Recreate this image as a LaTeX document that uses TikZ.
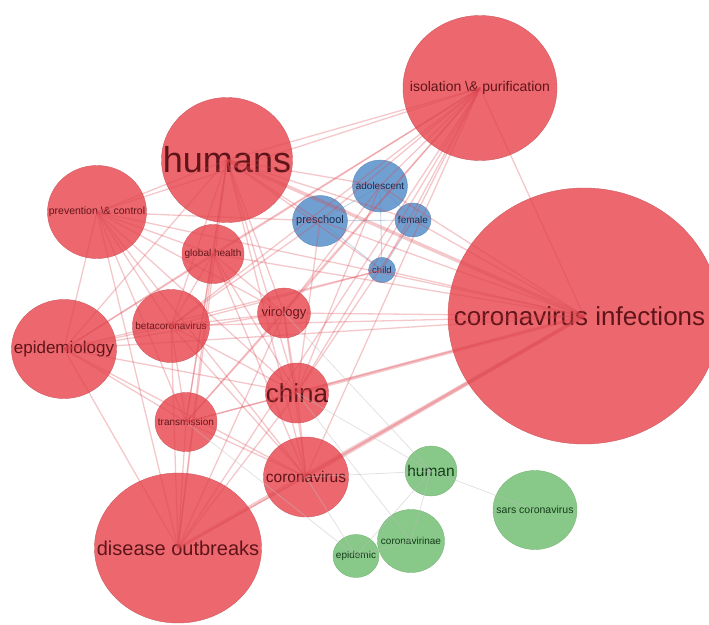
\documentclass[tikz,border=0pt]{standalone}
\usepackage{fontspec}
\setmainfont{Liberation Sans}
\usepackage{tikz}
\usetikzlibrary{shapes.geometric}
\definecolor{bubred}{RGB}{236,104,110}
\definecolor{bubredline}{RGB}{205,90,95}
\definecolor{bubblue}{RGB}{112,160,210}
\definecolor{bubblueline}{RGB}{95,140,185}
\definecolor{bubgreen}{RGB}{136,200,136}
\definecolor{bubgreenline}{RGB}{120,180,120}
\definecolor{redtext}{RGB}{95,20,25}
\definecolor{bluetext}{RGB}{20,40,75}
\definecolor{greentext}{RGB}{20,60,25}
\definecolor{linkred}{RGB}{220,70,80}
\definecolor{linkgray}{RGB}{190,190,190}

\begin{document}
\begin{tikzpicture}
	[x=1pt, y=-1pt,
	redbub/.style={ellipse, inner sep=0pt, fill=bubred, draw=bubredline, text=redtext},
	bluebub/.style={ellipse, inner sep=0pt, fill=bubblue, draw=bubblueline, text=bluetext},
	greenbub/.style={ellipse, inner sep=0pt, fill=bubgreen, draw=bubgreenline, text=greentext},
	link/.style={draw=linkred, opacity=0.3, line width=1.3pt},
	fade/.style={draw=linkgray, opacity=0.45, line width=0.8pt}]
	\useasboundingbox (0,0) rectangle (709,624);

	% red cluster
	\node (isolation) [redbub, minimum width=154, minimum height=145, font=\fontsize{14}{14}\selectfont]
		at (480,88) {\makebox[0pt]{isolation \textbackslash\& purification}};
	\node (humans) [redbub, minimum width=131, minimum height=125, font=\fontsize{36}{36}\selectfont]
		at (227,160) {\makebox[0pt]{humans}};
	\node (infections) [redbub, minimum width=272, minimum height=256, font=\fontsize{26}{26}\selectfont]
		at (584,316) {\makebox[0pt]{\kern-9pt coronavirus infections}};
	\node (prevention) [redbub, minimum width=99, minimum height=93, font=\fontsize{10.5}{10.5}\selectfont]
		at (97,212) {\makebox[0pt]{prevention \textbackslash\& control}};
	\node (global) [redbub, minimum width=62, minimum height=59, font=\fontsize{10}{10}\selectfont]
		at (213,254) {\makebox[0pt]{global health}};
	\node (epidemiology) [redbub, minimum width=105, minimum height=99, font=\fontsize{17}{17}\selectfont]
		at (64,349) {\makebox[0pt]{epidemiology}};
	\node (beta) [redbub, minimum width=77, minimum height=73, font=\fontsize{10}{10}\selectfont]
		at (171,326) {\makebox[0pt]{betacoronavirus}};
	\node (virology) [redbub, minimum width=53, minimum height=50, font=\fontsize{13}{13}\selectfont]
		at (284,313) {\makebox[0pt]{virology}};
	\node (china) [redbub, minimum width=63, minimum height=60, font=\fontsize{26}{26}\selectfont]
		at (297,393) {\makebox[0pt]{china}};
	\node (transmission) [redbub, minimum width=62, minimum height=59, font=\fontsize{10}{10}\selectfont]
		at (186,422) {\makebox[0pt]{transmission}};
	\node (coronavirus) [redbub, minimum width=85, minimum height=80, font=\fontsize{15.5}{15.5}\selectfont]
		at (306,477) {\makebox[0pt]{coronavirus}};
	\node (outbreaks) [redbub, minimum width=167, minimum height=150, font=\fontsize{20}{20}\selectfont]
		at (178,548) {\makebox[0pt]{disease outbreaks}};

	% blue cluster
	\node (preschool) [bluebub, minimum width=55, minimum height=51, font=\fontsize{11}{11}\selectfont]
		at (320,221) {\makebox[0pt]{preschool}};
	\node (adolescent) [bluebub, minimum width=55, minimum height=52, font=\fontsize{10}{10}\selectfont]
		at (380,186) {\makebox[0pt]{adolescent}};
	\node (female) [bluebub, minimum width=36, minimum height=34, font=\fontsize{10}{10}\selectfont]
		at (413,220) {\makebox[0pt]{female}};
	\node (child) [bluebub, minimum width=27, minimum height=25, font=\fontsize{9.5}{9.5}\selectfont]
		at (382,270) {\makebox[0pt]{child}};

	% green cluster
	\node (human) [greenbub, minimum width=52, minimum height=50, font=\fontsize{15.5}{15.5}\selectfont]
		at (431,471) {\makebox[0pt]{human}};
	\node (sars) [greenbub, minimum width=84, minimum height=79, font=\fontsize{10.5}{10.5}\selectfont]
		at (535,510) {\makebox[0pt]{sars coronavirus}};
	\node (coronavirinae) [greenbub, minimum width=67, minimum height=63, font=\fontsize{10}{10}\selectfont]
		at (411,541) {\makebox[0pt]{coronavirinae}};
	\node (epidemic) [greenbub, minimum width=46, minimum height=43, font=\fontsize{10}{10}\selectfont]
		at (356,556) {\makebox[0pt]{epidemic}};

	% links
	\foreach \a/\b in {humans/isolation, humans/prevention, humans/global, humans/beta,
		humans/virology, humans/china, humans/transmission, humans/coronavirus,
		humans/outbreaks, humans/epidemiology, humans/preschool, humans/adolescent,
		humans/female, humans/child,
		isolation/prevention, isolation/epidemiology, isolation/global, isolation/beta,
		isolation/virology, isolation/china, isolation/coronavirus, isolation/outbreaks,
		isolation/infections, isolation/preschool, isolation/adolescent, isolation/transmission,
		isolation/female, isolation/child,
		infections/prevention, infections/epidemiology, infections/beta, infections/virology,
		infections/global, infections/transmission, infections/preschool, infections/adolescent,
		infections/female, infections/child,
		prevention/global, prevention/beta, prevention/virology, prevention/china,
		prevention/transmission, prevention/coronavirus, prevention/outbreaks,
		prevention/epidemiology, prevention/preschool,
		epidemiology/global, epidemiology/beta, epidemiology/virology, epidemiology/china,
		epidemiology/transmission, epidemiology/coronavirus, epidemiology/outbreaks,
		global/beta, global/virology, global/china, global/transmission, global/coronavirus,
		global/outbreaks,
		beta/virology, beta/china, beta/transmission, beta/coronavirus, beta/outbreaks,
		virology/china, virology/transmission, virology/coronavirus, virology/outbreaks,
		china/transmission, china/coronavirus, china/outbreaks,
		transmission/coronavirus, transmission/outbreaks, coronavirus/outbreaks,
		preschool/china, preschool/beta, adolescent/virology, adolescent/china,
		female/china, child/epidemiology, child/beta}
		\draw[link] (\a.center) -- (\b.center);
	\foreach \a/\b in {humans/infections, infections/china, infections/outbreaks,
		infections/coronavirus}
		\draw[link, line width=3.5pt] (\a.center) -- (\b.center);
	\foreach \a/\b in {preschool/adolescent, preschool/female, preschool/child,
		adolescent/female, adolescent/child, female/child}
		\draw[link, draw=bubblueline, opacity=0.35, line width=0.9pt] (\a.center) -- (\b.center);
	\foreach \a/\b in {human/sars, human/coronavirinae, human/epidemic,
		coronavirinae/epidemic, human/coronavirus, human/china, human/virology,
		epidemic/coronavirus, epidemic/transmission, coronavirinae/china}
		\draw[fade] (\a.center) -- (\b.center);
\end{tikzpicture}
\end{document}
